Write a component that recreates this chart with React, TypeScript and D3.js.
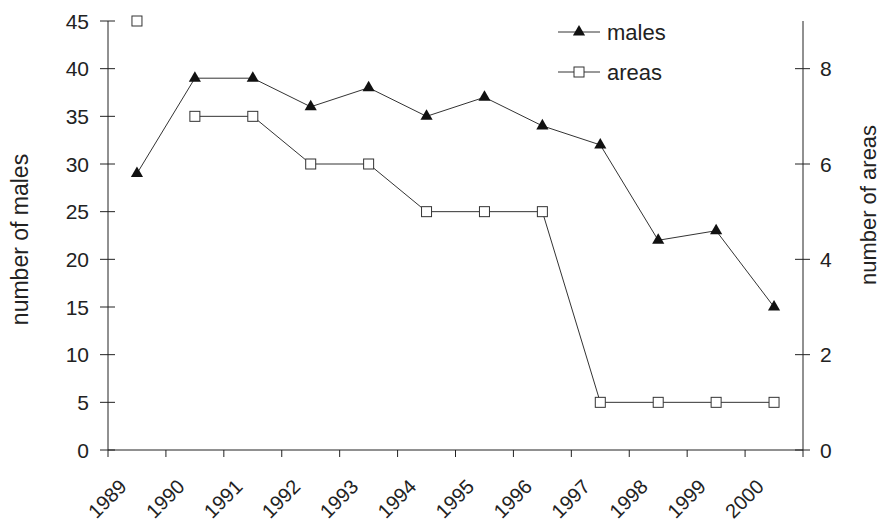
import React from "react";
import * as d3 from "d3";

const years = ["1989","1990","1991","1992","1993","1994","1995","1996","1997","1998","1999","2000"];
const males = [29, 39, 39, 36, 38, 35, 37, 34, 32, 22, 23, 15];
const areas = [9, 7, 7, 6, 6, 5, 5, 5, 1, 1, 1, 1];
const leftTicks = [0, 5, 10, 15, 20, 25, 30, 35, 40, 45];
const rightTicks = [0, 2, 4, 6, 8];
const legendItems = ["males", "areas"];

const W = 883, H = 523;
const FONT = "'Liberation Sans', Arial, Helvetica, sans-serif";
const INK = "#222";

export default function App() {
  const x = d3.scaleBand<string>().domain(years).range([108, 803]).padding(0);
  const bw = x.bandwidth();
  const cx = (y: string) => (x(y) as number) + bw / 2;
  const yL = d3.scaleLinear().domain([0, 45]).range([450, 21]);
  const yR = d3.scaleLinear().domain([0, 9]).range([450, 21]);

  const maleLine = d3.line<number>().x((_, i) => cx(years[i])).y((d) => yL(d));
  const areaData = areas.map((v, i) => ({ v, i }));
  const areaLine = d3
    .line<{ v: number; i: number }>()
    .defined((d) => d.i >= 1)
    .x((d) => cx(years[d.i]))
    .y((d) => yR(d.v));

  const tri = d3.symbol().type(d3.symbolTriangle).size(64)();
  const sq = 10;

  const x0 = x.range()[0];
  const x1 = x.range()[1];
  const yBase = yL(0);
  const yTop = yL(45);

  return (
    <svg width={W} height={H} style={{ position: "absolute", left: 0, top: 0, background: "#fff" }}>
      <rect width={W} height={H} fill="#fff" />
      {/* axes */}
      <line x1={x0} x2={x0} y1={yTop} y2={yBase} stroke={INK} strokeWidth={1} />
      <line x1={x1} x2={x1} y1={yR(9)} y2={yBase} stroke={INK} strokeWidth={1} />
      <line x1={x0} x2={x1} y1={yBase} y2={yBase} stroke={INK} strokeWidth={1} />
      {leftTicks.map((t) => (
        <g key={"l" + t}>
          <line x1={x0 - 8} x2={x0 + 7} y1={yL(t)} y2={yL(t)} stroke={INK} />
          <text x={89} y={yL(t)} dy="0.36em" textAnchor="end" fontSize={21} fontFamily={FONT} fill={INK}>
            {t}
          </text>
        </g>
      ))}
      {rightTicks.map((t) => (
        <g key={"r" + t}>
          <line x1={x1 - 8} x2={x1 + 7} y1={yR(t)} y2={yR(t)} stroke={INK} />
          <text x={820} y={yR(t)} dy="0.36em" textAnchor="start" fontSize={21} fontFamily={FONT} fill={INK}>
            {t}
          </text>
        </g>
      ))}
      {years.map((yr) => (
        <line key={"bt" + yr} x1={x(yr) as number} x2={x(yr) as number} y1={yBase} y2={yBase + 7} stroke={INK} />
      ))}
      <line x1={x1} x2={x1} y1={yBase} y2={yBase + 7} stroke={INK} />
      {years.map((yr) => (
        <text
          key={"yl" + yr}
          transform={`translate(${cx(yr) - 9},${488}) rotate(-45)`}
          textAnchor="end"
          fontSize={20}
          fontFamily={FONT}
          fill={INK}
        >
          {yr}
        </text>
      ))}
      {/* axis titles */}
      <text
        transform={`translate(28,${(yTop + yBase) / 2 + 4}) rotate(-90)`}
        textAnchor="middle"
        fontSize={23}
        fontFamily={FONT}
        fill={INK}
      >
        number of males
      </text>
      <text
        transform={`translate(876,${205}) rotate(-90)`}
        textAnchor="middle"
        fontSize={22}
        fontFamily={FONT}
        fill={INK}
      >
        number of areas
      </text>
      {/* series lines */}
      <path d={maleLine(males) || ""} fill="none" stroke="#333" strokeWidth={1} />
      <path d={areaLine(areaData) || ""} fill="none" stroke="#333" strokeWidth={1} />
      {males.map((v, i) => (
        <path key={"m" + i} d={tri || ""} transform={`translate(${cx(years[i])},${yL(v)})`} fill="#111" />
      ))}
      {areas.map((v, i) => (
        <rect
          key={"a" + i}
          x={cx(years[i]) - sq / 2}
          y={yR(v) - sq / 2}
          width={sq}
          height={sq}
          fill="#fff"
          stroke="#333"
          strokeWidth={1}
        />
      ))}
      {/* legend */}
      {legendItems.map((name, i) => {
        const ly = 32 + i * 40;
        return (
          <g key={name}>
            <line x1={558} x2={600} y1={ly} y2={ly} stroke="#333" />
            {i === 0 ? (
              <path d={tri || ""} transform={`translate(579,${ly})`} fill="#111" />
            ) : (
              <rect x={579 - sq / 2} y={ly - sq / 2} width={sq} height={sq} fill="#fff" stroke="#333" />
            )}
            <text x={607} y={ly} dy="0.35em" fontSize={22} fontFamily={FONT} fill={INK}>
              {name}
            </text>
          </g>
        );
      })}
    </svg>
  );
}
